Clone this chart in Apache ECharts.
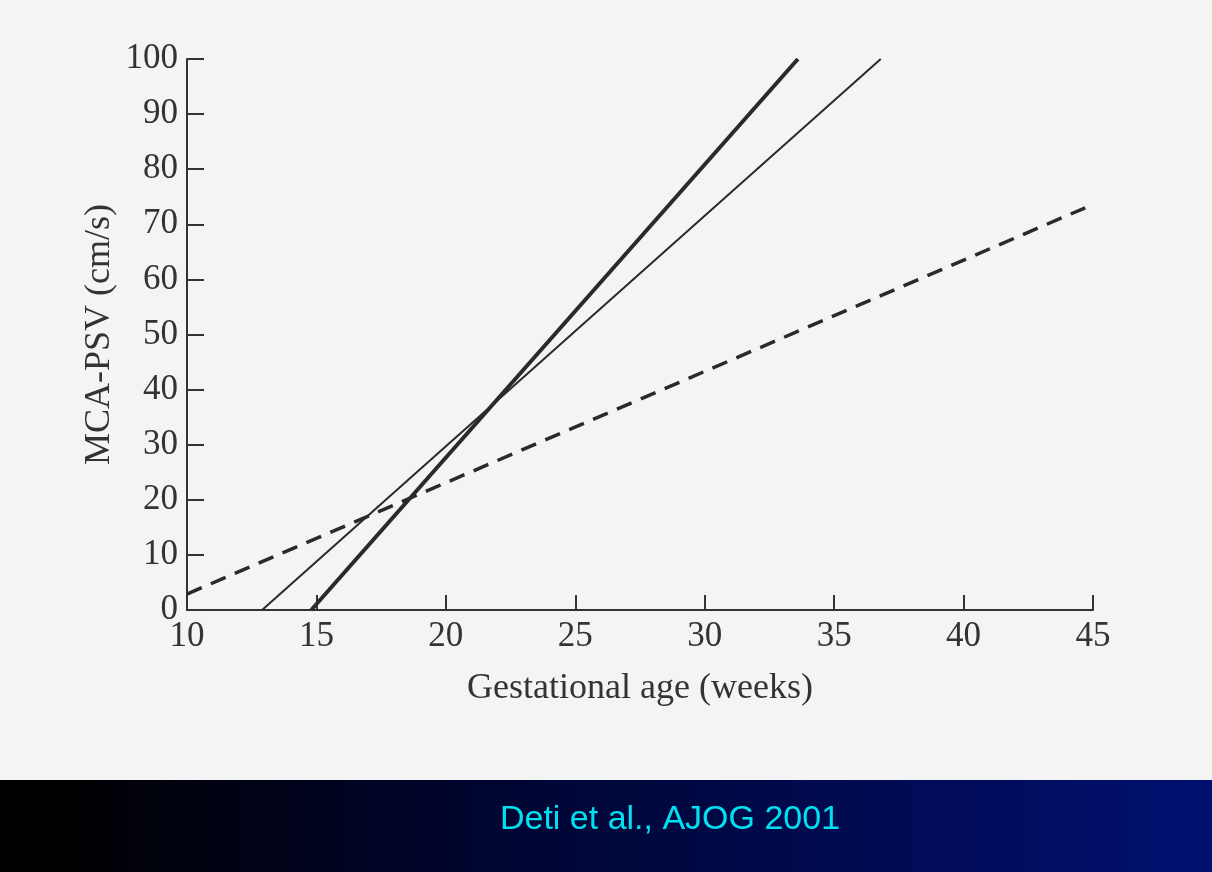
<!DOCTYPE html>
<html><head><meta charset="utf-8">
<script src="https://cdn.jsdelivr.net/npm/echarts@6/dist/echarts.min.js"></script>
<style>html,body{margin:0;padding:0;background:#f4f4f4}#c{width:1212px;height:872px}</style>
</head><body><div id="c"></div>
<script>
// endpoints: [gestational age (weeks), MCA-PSV (cm/s)]
const thickLine = [[14.8, 0], [33.6, 100]];
const thinLine = [[12.9, 0], [36.8, 100]];
const dashedLine = [[10, 2.9], [44.7, 73]];
const xTicks = [10, 15, 20, 25, 30, 35, 40, 45];
const yTicks = [0, 10, 20, 30, 40, 50, 60, 70, 80, 90, 100];
const xTitle = 'Gestational age (weeks)';
const yTitle = 'MCA-PSV (cm/s)';
const citation = 'Deti et al., AJOG 2001';

const serif = '"Liberation Serif", "DejaVu Serif", serif';
const axisCol = '#333';
const chart = echarts.init(document.getElementById('c'));
chart.setOption({
  backgroundColor: '#f4f4f4',
  animation: false,
  grid: {left: 187, right: 119, top: 59, bottom: 262},
  xAxis: {
    type: 'value', min: xTicks[0], max: xTicks[xTicks.length - 1], interval: 5,
    name: xTitle, nameLocation: 'middle', nameGap: 61,
    nameTextStyle: {fontFamily: serif, fontSize: 36, color: axisCol},
    axisLine: {show: true, onZero: false, lineStyle: {color: axisCol, width: 2}},
    axisTick: {show: true, inside: true, length: 15, lineStyle: {color: axisCol, width: 2}},
    axisLabel: {fontFamily: serif, fontSize: 35, color: axisCol, margin: 9},
    splitLine: {show: false}
  },
  yAxis: {
    type: 'value', min: yTicks[0], max: yTicks[yTicks.length - 1], interval: 10,
    name: yTitle, nameLocation: 'middle', nameGap: 69, nameRotate: 90, nameMoveOverlap: false,
    nameTextStyle: {fontFamily: serif, fontSize: 36, color: axisCol},
    axisLine: {show: true, onZero: false, lineStyle: {color: axisCol, width: 2}},
    axisTick: {show: true, inside: true, length: 17, lineStyle: {color: axisCol, width: 2}},
    axisLabel: {fontFamily: serif, fontSize: 35, color: axisCol, margin: 9},
    splitLine: {show: false}
  },
  series: [
    {type: 'line', data: thickLine, symbol: 'none', lineStyle: {color: '#2a2a2a', width: 4}},
    {type: 'line', data: thinLine, symbol: 'none', lineStyle: {color: '#2a2a2a', width: 2}},
    {type: 'line', data: dashedLine, symbol: 'none', lineStyle: {color: '#2a2a2a', width: 3.5, type: [16, 10]}}
  ],
  graphic: [
    {type: 'rect', left: 0, top: 780, shape: {width: 1212, height: 92}, z: -1,
     style: {fill: new echarts.graphic.LinearGradient(0, 0, 1, 0, [
       {offset: 0, color: '#000000'}, {offset: 0.04, color: '#000000'},
       {offset: 0.4, color: '#000530'}, {offset: 1, color: '#001070'}])}},
    {type: 'text', x: 670, y: 820, z: 10,
     style: {text: citation, font: '34px "Liberation Sans", Arial, sans-serif', fill: '#00e0f0',
             textAlign: 'center', textVerticalAlign: 'middle'}}
  ]
});
</script></body></html>
